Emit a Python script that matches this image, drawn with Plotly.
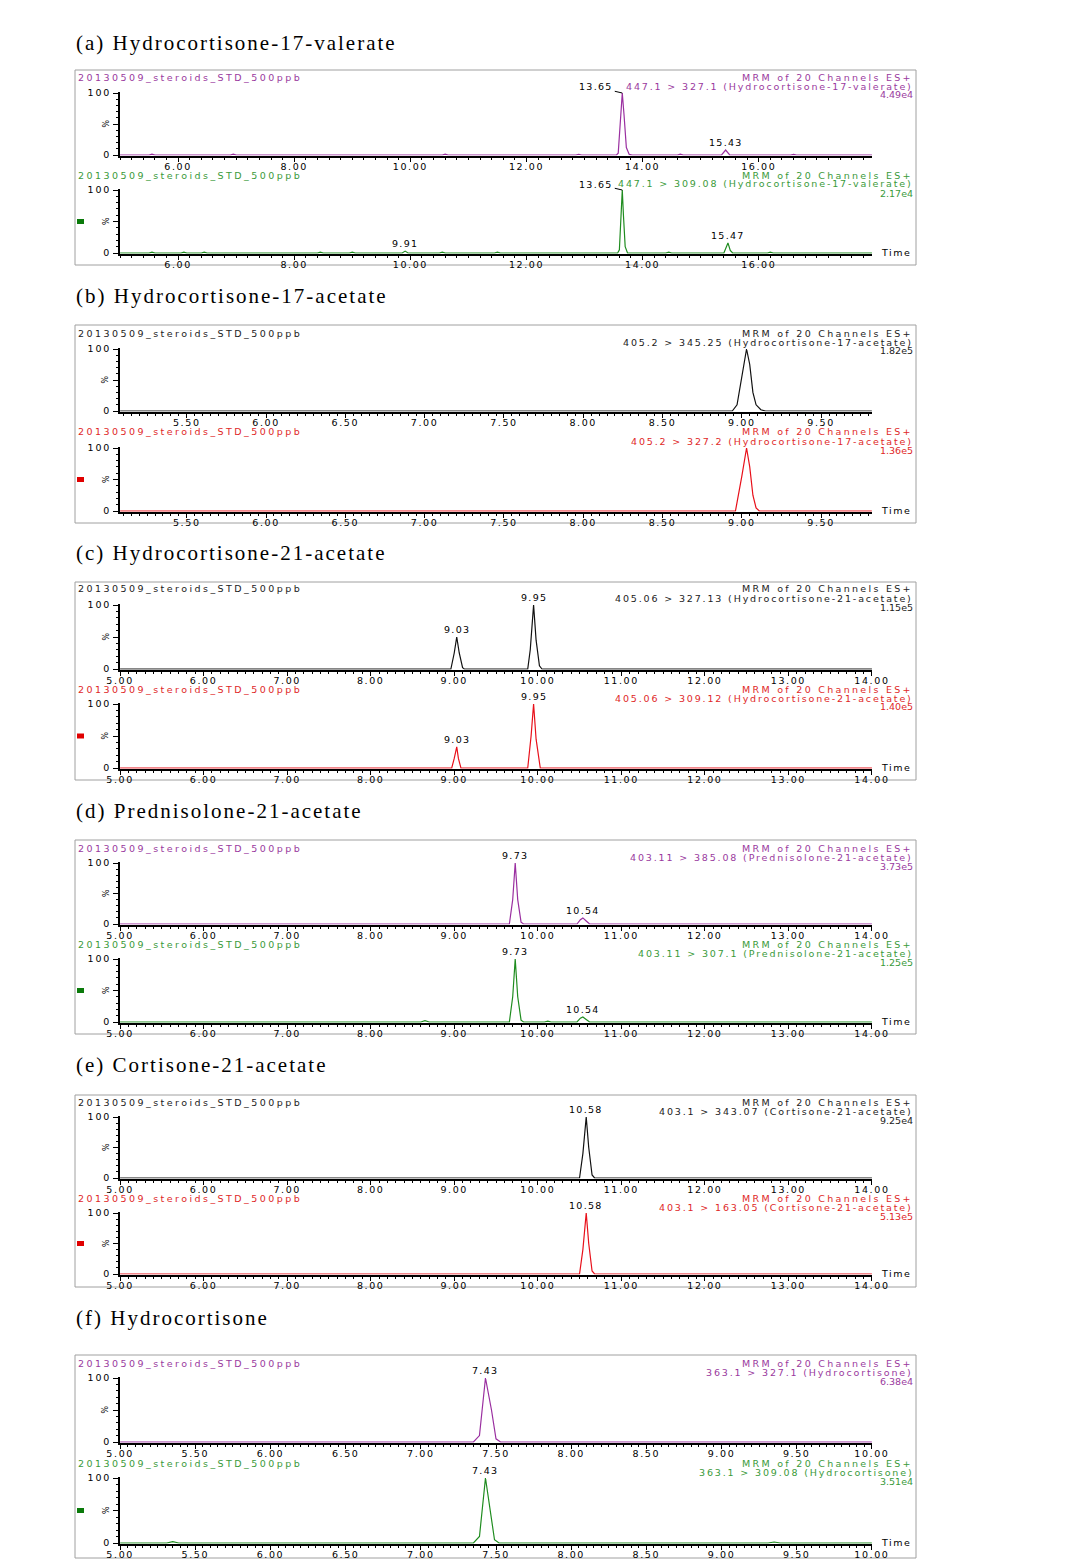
import math
import plotly.graph_objects as go

# ---------------- DATA ----------------
panel_titles = ["(a) Hydrocortisone-17-valerate", "(b) Hydrocortisone-17-acetate",
                "(c) Hydrocortisone-21-acetate", "(d) Prednisolone-21-acetate",
                "(e) Cortisone-21-acetate", "(f) Hydrocortisone"]
sample_name = "20130509_steroids_STD_500ppb"
header_text = "MRM of 20 Channels ES+"

transitions = ["447.1 > 327.1 (Hydrocortisone-17-valerate)", "447.1 > 309.08 (Hydrocortisone-17-valerate)",
               "405.2 > 345.25 (Hydrocortisone-17-acetate)", "405.2 > 327.2 (Hydrocortisone-17-acetate)",
               "405.06 > 327.13 (Hydrocortisone-21-acetate)", "405.06 > 309.12 (Hydrocortisone-21-acetate)",
               "403.11 > 385.08 (Prednisolone-21-acetate)", "403.11 > 307.1 (Prednisolone-21-acetate)",
               "403.1 > 343.07 (Cortisone-21-acetate)", "403.1 > 163.05 (Cortisone-21-acetate)",
               "363.1 > 327.1 (Hydrocortisone)", "363.1 > 309.08 (Hydrocortisone)"]
intensities = ["4.49e4", "2.17e4", "1.82e5", "1.36e5", "1.15e5", "1.40e5",
               "3.73e5", "1.25e5", "9.25e4", "5.13e5", "6.38e4", "3.51e4"]

# time (min) and relative intensity (%) of each chromatogram
a1_t = [5.00, 5.50, 5.55, 5.60, 6.90, 6.95, 7.00, 8.95, 9.00, 9.05, 10.55, 10.60, 10.65, 12.85, 12.90, 12.95,
        13.55, 13.58, 13.62, 13.65, 13.68, 13.72, 13.77, 13.82, 14.60, 14.65, 14.70,
        15.36, 15.43, 15.50, 16.55, 16.60, 16.65, 17.95]
a1_y = [0, 0, 1.5, 0, 0, 1.5, 0, 0, 1.2, 0, 0, 1.5, 0, 0, 1.2, 0,
        0, 3, 60, 100, 65, 12, 1, 0, 0, 1.5, 0,
        0, 8, 0, 0, 1, 0, 0]

a2_t = [5.00, 5.50, 5.55, 5.60, 6.05, 6.10, 6.15, 6.40, 6.45, 6.50, 8.40, 8.45, 8.50, 8.95, 9.00, 9.05,
        9.86, 9.91, 9.96, 10.50, 10.55, 10.60, 11.45, 11.50, 11.55,
        13.57, 13.60, 13.63, 13.65, 13.67, 13.70, 13.74,
        14.40, 14.45, 14.50, 15.40, 15.44, 15.47, 15.51, 15.55, 16.15, 16.20, 16.25, 17.95]
a2_y = [0, 0, 1.5, 0, 0, 1.5, 0, 0, 1.5, 0, 0, 1.5, 0, 0, 1.5, 0,
        0, 3, 0, 0, 1.5, 0, 0, 1.5, 0,
        0, 5, 70, 100, 60, 10, 0,
        0, 1.5, 0, 0, 8, 16, 4, 0, 0, 1.2, 0, 0]

b1_t = [5.08, 8.94, 8.97, 9.00, 9.03, 9.05, 9.07, 9.09, 9.12, 9.15, 9.82]
b1_y = [0, 0, 10, 55, 100, 75, 30, 10, 2, 0, 0]
b2_t = [5.08, 8.96, 9.00, 9.03, 9.05, 9.07, 9.09, 9.11, 9.82]
b2_y = [0, 0, 55, 100, 70, 25, 5, 0, 0]

c1_t = [5.00, 8.96, 9.00, 9.03, 9.06, 9.10, 9.12, 9.88, 9.91, 9.95, 9.98, 10.02, 10.05, 14.00]
c1_y = [0, 0, 25, 50, 25, 2, 0, 0, 30, 100, 45, 5, 0, 0]
c2_t = [5.00, 8.97, 9.00, 9.03, 9.05, 9.08, 9.88, 9.92, 9.95, 9.98, 10.03, 14.00]
c2_y = [0, 0, 15, 33, 15, 0, 0, 50, 100, 45, 0, 0]

d1_t = [5.00, 9.66, 9.70, 9.73, 9.76, 9.80, 9.83, 10.47, 10.51, 10.54, 10.58, 10.62, 14.00]
d1_y = [0, 0, 40, 100, 40, 3, 0, 0, 7, 10, 5, 0, 0]
d2_t = [5.00, 8.60, 8.65, 8.70, 9.66, 9.70, 9.73, 9.76, 9.80, 9.83, 10.08, 10.12, 10.16,
        10.47, 10.51, 10.54, 10.58, 10.62, 14.00]
d2_y = [0, 0, 2, 0, 0, 40, 100, 40, 3, 0, 0, 1.5, 0, 0, 6, 8, 4, 0, 0]

e1_t = [5.00, 7.05, 7.10, 7.15, 10.50, 10.54, 10.58, 10.61, 10.65, 10.68, 10.97, 11.02, 11.07,
        11.30, 11.35, 11.40, 12.15, 12.20, 12.25, 14.00]
e1_y = [0, 0, 1, 0, 0, 40, 100, 50, 5, 0, 0, 1, 0, 0, 1, 0, 0, 1, 0, 0]
e2_t = [5.00, 10.50, 10.54, 10.58, 10.61, 10.65, 10.68, 14.00]
e2_y = [0, 0, 40, 100, 50, 5, 0, 0]

f1_t = [5.00, 7.35, 7.39, 7.43, 7.47, 7.50, 7.53, 10.00]
f1_y = [0, 0, 10, 100, 50, 5, 0, 0]
f2_t = [5.00, 5.31, 5.35, 5.39, 7.35, 7.39, 7.43, 7.46, 7.49, 7.52, 9.31, 9.35, 9.39, 10.00]
f2_y = [0, 0, 2, 0, 0, 10, 100, 50, 5, 0, 0, 1.5, 0, 0]

series_t = [a1_t, a2_t, b1_t, b2_t, c1_t, c2_t, d1_t, d2_t, e1_t, e2_t, f1_t, f2_t]
series_y = [a1_y, a2_y, b1_y, b2_y, c1_y, c2_y, d1_y, d2_y, e1_y, e2_y, f1_y, f2_y]

# labelled peaks: retention time and apex height (%)
peak_times = [[13.65, 15.43], [13.65, 9.91, 15.47], [], [], [9.03, 9.95], [9.03, 9.95],
              [9.73, 10.54], [9.73, 10.54], [10.58], [10.58], [7.43], [7.43]]
peak_heights = [[100, 8], [100, 3, 16], [], [], [50, 100], [33, 100],
                [100, 10], [100, 8], [100], [100], [100], [100]]

x_ranges = [[5.0, 17.95], [5.08, 9.82], [5.0, 14.0], [5.0, 14.0], [5.0, 14.0], [5.0, 10.0]]
x_dticks = [2, 0.5, 1, 1, 1, 0.5]
x_minor = [0.2, 0.05, 0.1, 0.1, 0.1, 0.05]
y_ticks = [0, 50, 100]
y_ticklabels = ["0", "", "100"]

# ---------------- STYLE / LAYOUT ----------------
W, H = 1079, 1562
PURPLE, GREEN, RED, BLACK = "#9a2fa0", "#1f8c1f", "#e8101a", "#111111"
TXT_PURPLE, TXT_GREEN, TXT_RED = "#9a3a9e", "#3a9a3a", "#e02828"
trace_colors = [PURPLE, GREEN, BLACK, RED, BLACK, RED, PURPLE, GREEN, BLACK, RED, PURPLE, GREEN]
text_colors = [TXT_PURPLE, TXT_GREEN, "#222222", TXT_RED, "#222222", TXT_RED,
               TXT_PURPLE, TXT_GREEN, "#222222", TXT_RED, TXT_PURPLE, TXT_GREEN]
marker_colors = ["#0a7a0a", "#e00000", "#e00000", "#0a7a0a", "#e00000", "#0a7a0a"]

# pixel geometry: (y of 100 %, y of 0 %, y of header line)
geom = [(93, 155, 77), (190, 253, 175), (349, 411, 333), (448, 511, 432),
        (605, 669, 589), (704, 768, 689), (863, 924, 848), (959, 1022, 944),
        (1117, 1178, 1102), (1213, 1274, 1198), (1378, 1442, 1363), (1478, 1543, 1463)]
boxes = [(70, 265), (325, 523), (582, 780), (840, 1034), (1095, 1287), (1355, 1558)]
title_y = [43, 296, 553, 811, 1065, 1318]
X_LEFT, X_RIGHT = 120, 872
FONT = "DejaVu Sans"
FS = 9.5


def px(x):
    return x / W


def py(y):
    return 1 - y / H


def sp(text, ls):
    if ls == 0:
        return text
    return f'<span style="letter-spacing:{ls}px">{text}</span>'


def tick_values(r, d):
    vals = []
    k = math.ceil(r[0] / d - 1e-6)
    while k * d <= r[1] + 1e-6:
        vals.append(round(k * d, 4))
        k += 1
    return vals


YMIN, YMAX = -1, 101

fig = go.Figure()
annotations = []
shapes = []
layout_axes = {}

for i in range(12):
    p = i // 2
    n = i + 1
    xa = "x" if n == 1 else f"x{n}"
    ya = "y" if n == 1 else f"y{n}"
    y100, y0, yh = geom[i]
    scale = (y0 - y100) / 100.0
    top_px = y100 - (YMAX - 100) * scale
    bot_px = y0 - YMIN * scale
    fig.add_trace(go.Scatter(x=series_t[i], y=series_y[i], mode="lines", xaxis=xa, yaxis=ya,
                             line=dict(color=trace_colors[i], width=1.2), showlegend=False,
                             hoverinfo="skip"))
    key_x = "xaxis" if n == 1 else f"xaxis{n}"
    key_y = "yaxis" if n == 1 else f"yaxis{n}"
    tv = tick_values(x_ranges[p], x_dticks[p])
    rng = [x_ranges[p][0] - 0.001, x_ranges[p][1] + 0.001]
    layout_axes[key_x] = dict(
        domain=[px(X_LEFT), px(X_RIGHT)], anchor=ya, range=rng, automargin=False,
        tickmode="array", tickvals=tv, ticktext=[sp(f"{v:.2f}", 1.6) for v in tv],
        showline=True, linecolor="black", linewidth=2, ticks="outside", ticklen=4,
        tickwidth=1, tickcolor="black", showgrid=False, zeroline=False, layer="below traces",
        ticklabelstandoff=-3, tickfont=dict(family=FONT, size=FS, color="black"),
        minor=dict(tickmode="linear", tick0=0, dtick=x_minor[p], ticks="outside", ticklen=2.5,
                   tickcolor="black", tickwidth=1, showgrid=False),
        fixedrange=True)
    layout_axes[key_y] = dict(
        domain=[py(bot_px), py(top_px)], anchor=xa, range=[YMIN, YMAX], tickmode="array", automargin=False,
        tickvals=y_ticks, ticktext=[sp(t, 1.8) for t in y_ticklabels],
        showline=True, linecolor="black", linewidth=2, ticks="outside",
        ticklen=5, tickwidth=1, tickcolor="black", showgrid=False, zeroline=False, layer="below traces",
        tickfont=dict(family=FONT, size=FS, color="black"),
        minor=dict(tickmode="linear", tick0=0, dtick=10, ticks="outside", ticklen=2, tickcolor="black",
                   tickwidth=1, showgrid=False),
        fixedrange=True)

    # rotated % sign
    annotations.append(dict(x=px(104), y=py((y0 + y100) / 2), xref="paper", yref="paper", text="%",
                            textangle=90, showarrow=False, font=dict(family=FONT, size=8, color="black"),
                            xanchor="center", yanchor="middle"))
    # sample name (top-left)
    annotations.append(dict(x=px(76), y=py(yh), xref="paper", yref="paper", text=sp(sample_name, 2.45),
                            showarrow=False, xanchor="left", yanchor="middle",
                            font=dict(family=FONT, size=FS, color=text_colors[i])))
    # right header lines
    for k, (txt, ls) in enumerate([(header_text, 2.3), (transitions[i], 1.85), (intensities[i], 0)]):
        annotations.append(dict(x=px(915), y=py(yh + 9 * k), xref="paper", yref="paper", text=sp(txt, ls),
                                showarrow=False, xanchor="right", yanchor="middle",
                                font=dict(family=FONT, size=FS, color=text_colors[i])))
    # peak labels
    for t, h in zip(peak_times[i], peak_heights[i]):
        if p == 0 and h == 100:
            annotations.append(dict(x=t, y=h, xref=xa, yref=ya, text=sp(f"{t:.2f}", 1.3), showarrow=True,
                                    arrowhead=0, arrowwidth=1, arrowcolor="black", ax=-26, ay=-6,
                                    standoff=0, font=dict(family=FONT, size=FS, color="black")))
        else:
            annotations.append(dict(x=t, y=h, xref=xa, yref=ya, text=sp(f"{t:.2f}", 1.3), showarrow=False,
                                    xanchor="center", yanchor="bottom", yshift=0,
                                    font=dict(family=FONT, size=FS, color="black")))
    if i % 2 == 1:
        annotations.append(dict(x=px(879), y=py(y0 - 1), xref="paper", yref="paper", text=sp("Time", 1.5),
                                showarrow=False, xanchor="left", yanchor="middle",
                                font=dict(family=FONT, size=FS, color="black")))
        mid = (y0 + y100) / 2
        shapes.append(dict(type="rect", xref="paper", yref="paper", x0=px(77), x1=px(84),
                           y0=py(mid - 2.5), y1=py(mid + 2.5), fillcolor=marker_colors[p],
                           line=dict(width=0)))

for p in range(6):
    shapes.append(dict(type="rect", xref="paper", yref="paper", x0=px(75), x1=px(916),
                       y0=py(boxes[p][1]), y1=py(boxes[p][0]), line=dict(color="#a0a0a0", width=1),
                       fillcolor="rgba(0,0,0,0)", layer="below"))
    annotations.append(dict(x=px(74), y=py(title_y[p]), xref="paper", yref="paper",
                            text=sp(panel_titles[p], 2.0),
                            showarrow=False, xanchor="left", yanchor="middle",
                            font=dict(family="Liberation Serif", size=21, color="black")))

fig.update_layout(width=W, height=H, margin=dict(l=0, r=0, t=0, b=0, pad=0, autoexpand=False),
                  paper_bgcolor="white", plot_bgcolor="rgba(0,0,0,0)", annotations=annotations,
                  shapes=shapes, showlegend=False, **layout_axes)

fig.write_html("out.html", config={"displayModeBar": False})
